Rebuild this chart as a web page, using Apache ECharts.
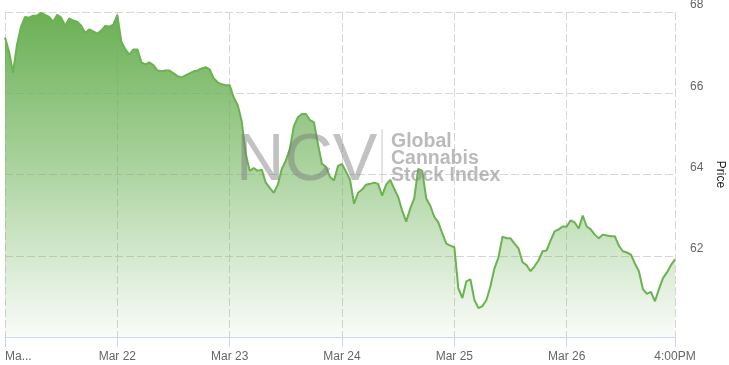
<!DOCTYPE html>
<html>
<head>
<meta charset="utf-8">
<script src="https://cdn.jsdelivr.net/npm/echarts@6/dist/echarts.min.js"></script>
<style>
html,body{margin:0;padding:0;background:#fff;}
#chart{width:729px;height:365px;}
</style>
</head>
<body>
<div id="chart"></div>
<script>
// Tick labels (one per trading-day start) and the final close label
const dayLabels = ['Ma...', 'Mar 22', 'Mar 23', 'Mar 24', 'Mar 25', 'Mar 26'];
const closeLabel = '4:00PM';

// Price values per trading day
const day1 = [67.37, 67.03, 66.51, 67.20, 67.64, 67.88, 67.86, 67.91, 67.91, 67.98, 67.93, 67.88, 67.76, 67.93,
              67.86, 67.66, 67.84, 67.79, 67.76, 67.66, 67.49, 67.57, 67.52, 67.47, 67.54, 67.66, 67.64, 67.69];
const day2 = [67.93, 67.27, 67.08, 66.95, 67.08, 67.08, 66.76, 66.71, 66.76, 66.69, 66.56, 66.54, 66.56, 66.56,
              66.49, 66.42, 66.39, 66.44, 66.49, 66.54, 66.56, 66.61, 66.64, 66.59, 66.37, 66.27, 66.22, 66.20];
const day3 = [66.20, 65.90, 65.71, 65.31, 64.51, 64.09, 64.16, 64.09, 64.12, 63.80, 63.67, 63.55, 63.75, 64.14,
              64.34, 64.63, 65.19, 65.41, 65.49, 65.49, 65.34, 65.29, 64.75, 64.26, 64.19, 63.94, 63.85, 64.21];
const day4 = [64.26, 64.07, 63.87, 63.28, 63.55, 63.63, 63.75, 63.77, 63.80, 63.77, 63.48, 63.75, 63.87, 63.65,
              63.45, 63.11, 62.84, 63.16, 63.41, 64.14, 64.09, 63.41, 63.23, 62.96, 62.82, 62.55, 62.30, 62.25];
const day5 = [62.21, 61.20, 60.96, 61.37, 61.42, 60.91, 60.71, 60.76, 60.91, 61.25, 61.69, 61.96, 62.47, 62.43,
              62.43, 62.30, 62.18, 61.84, 61.77, 61.62, 61.74, 61.89, 62.11, 62.13, 62.38, 62.60, 62.65, 62.72];
const day6 = [62.72, 62.87, 62.82, 62.67, 62.99, 62.72, 62.65, 62.52, 62.43, 62.52, 62.50, 62.48, 62.48, 62.25,
              62.11, 62.08, 62.03, 61.81, 61.62, 61.18, 61.06, 61.11, 60.88, 61.18, 61.45, 61.59, 61.77, 61.91];

const yTicks = { min: 60, max: 68, step: 2 };

// ---- build library inputs ----
const allDays = [day1, day2, day3, day4, day5, day6];
const prices = [];
const cats = [];
const labelAt = {};
allDays.forEach(function (d, di) {
  d.forEach(function (v, j) {
    const idx = prices.length;
    if (j === 0) labelAt[idx] = dayLabels[di];
    cats.push(String(idx));
    prices.push(v);
  });
});
labelAt[prices.length - 1] = closeLabel;
const isTick = function (index) { return labelAt.hasOwnProperty(index); };

const chart = echarts.init(document.getElementById('chart'), null, { renderer: 'canvas' });
const FONT = '"Liberation Sans", Arial, sans-serif';

chart.setOption({
  animation: false,
  backgroundColor: '#ffffff',
  grid: { left: 5, right: 54, top: 12, bottom: 28, containLabel: false, outerBoundsMode: 'none' },
  xAxis: {
    type: 'category',
    data: cats,
    boundaryGap: false,
    axisLine: { show: true, lineStyle: { color: '#ccd6eb', width: 1 } },
    axisTick: { show: true, length: 10, interval: isTick, lineStyle: { color: '#ccd6eb' } },
    axisLabel: {
      interval: isTick,
      formatter: function (v, i) { return labelAt[i] || ''; },
      color: '#666666',
      fontSize: 12,
      fontFamily: FONT,
      margin: 14,
      alignMinLabel: 'left',
      showMinLabel: true,
      showMaxLabel: true,
      hideOverlap: false
    },
    splitLine: {
      show: true,
      interval: isTick,
      lineStyle: { color: '#d6d6d6', type: [8, 3], width: 1 }
    }
  },
  yAxis: {
    type: 'value',
    position: 'right',
    min: yTicks.min,
    max: yTicks.max,
    interval: yTicks.step,
    name: 'Price',
    nameLocation: 'middle',
    nameRotate: -90,
    nameGap: 37,
    nameTextStyle: { color: '#222222', fontSize: 12, fontFamily: FONT },
    axisLine: { show: false },
    axisTick: { show: false },
    axisLabel: {
      showMinLabel: false,
      color: '#666666',
      fontSize: 12,
      fontFamily: FONT,
      margin: 15,
      verticalAlign: 'bottom',
      padding: [0, 0, 1, 0]
    },
    splitLine: { show: true, lineStyle: { color: '#d6d6d6', type: [8, 3], width: 1 } }
  },
  graphic: [
    {
      type: 'text', z: 10, silent: true,
      style: { text: 'NCV', x: 236, y: 162, fill: 'rgba(120,120,120,0.45)', font: '67px ' + FONT, textVerticalAlign: 'middle' }
    },
    {
      type: 'line', z: 10, silent: true,
      shape: { x1: 382, y1: 129, x2: 382, y2: 183 },
      style: { stroke: 'rgba(150,150,150,0.5)', lineWidth: 1 }
    },
    {
      type: 'text', z: 10, silent: true,
      style: { text: 'Global\nCannabis\nStock Index', x: 391, y: 133, fill: 'rgba(140,140,140,0.6)',
               font: 'bold 19.5px ' + FONT, lineHeight: 17, textVerticalAlign: 'top' }
    }
  ],
  series: [{
    type: 'line',
    data: prices,
    showSymbol: false,
    symbol: 'none',
    smooth: false,
    z: 3,
    lineStyle: { color: '#6bb251', width: 2 },
    itemStyle: { color: '#6bb251' },
    areaStyle: {
      opacity: 1,
      color: new echarts.graphic.LinearGradient(0, 0, 0, 1, [
        { offset: 0, color: 'rgba(106,176,84,1)' },
        { offset: 0.45, color: 'rgba(108,178,87,0.6)' },
        { offset: 1, color: 'rgba(108,178,87,0.04)' }
      ])
    }
  }]
});
</script>
</body>
</html>
